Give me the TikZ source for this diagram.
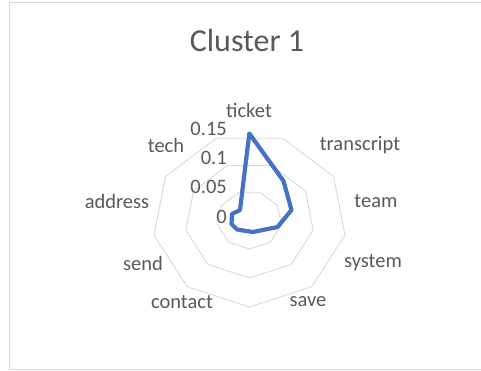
\documentclass[tikz,border=0pt]{standalone}
\usepackage{fontspec}
\setmainfont{Carlito}
\definecolor{ringgray}{HTML}{D9D9D9}
\definecolor{txtgray}{HTML}{595959}
\definecolor{seriesblue}{HTML}{4472C4}
\tikzset{
  axislabel/.style={text=txtgray, font=\fontsize{20.5}{21}\selectfont, inner sep=0pt},
  ticklabel/.style={axislabel, anchor=east},
  ring/.style={draw=ringgray, line width=0.9pt},
  series/.style={draw=seriesblue, line width=4.2pt, line join=round},
  chartframe/.style={draw=ringgray, line width=1pt}
}
\begin{document}
\begin{tikzpicture}[x=1pt, y=-1pt]
\useasboundingbox (0,0) rectangle (481,371);
% chart area border (its right side lies beyond the page)
\draw[chartframe] (481,3) -- (9,3) -- (9,369.5) -- (481,369.5);
% title
\node[text=txtgray, font=\fontsize{32}{33}\selectfont, inner sep=0pt] (title) at (247,41) {Cluster 1};
% gridline rings at 0.05, 0.10, 0.15
\begin{scope}[shift={(249.5,220)}, x=97pt, y=-87pt]
  \foreach \f in {0.33333,0.66667,1} {
    \draw[ring] (90:\f) \foreach \k in {1,...,8} { -- ({90-40*\k}:\f) } -- cycle;
  }
\end{scope}
% value axis labels
\node[ticklabel] (t015) at (227,129) {0.15};
\node[ticklabel] (t010) at (227,158) {0.1};
\node[ticklabel] (t005) at (227,187) {0.05};
\node[ticklabel] (t000) at (227,216.5) {0};
% category labels
\node[axislabel] (ticket) at (249,110) {ticket};
\node[axislabel] (transcript) at (360,145) {transcript};
\node[axislabel] (team) at (376,201) {team};
\node[axislabel] (system) at (373,263) {system};
\node[axislabel] (save) at (308,302) {save};
\node[axislabel] (contact) at (182,302) {contact};
\node[axislabel] (send) at (143,263) {send};
\node[axislabel] (address) at (117,201) {address};
\node[axislabel] (tech) at (166,145) {tech};
% data series
\draw[series] (249.3,133.5) -- (283.5,181) -- (291.5,210) -- (277.5,227)
  -- (253,232) -- (237,229.5) -- (231.5,224) -- (232,214) -- (240,210) -- cycle;
\end{tikzpicture}
\end{document}
